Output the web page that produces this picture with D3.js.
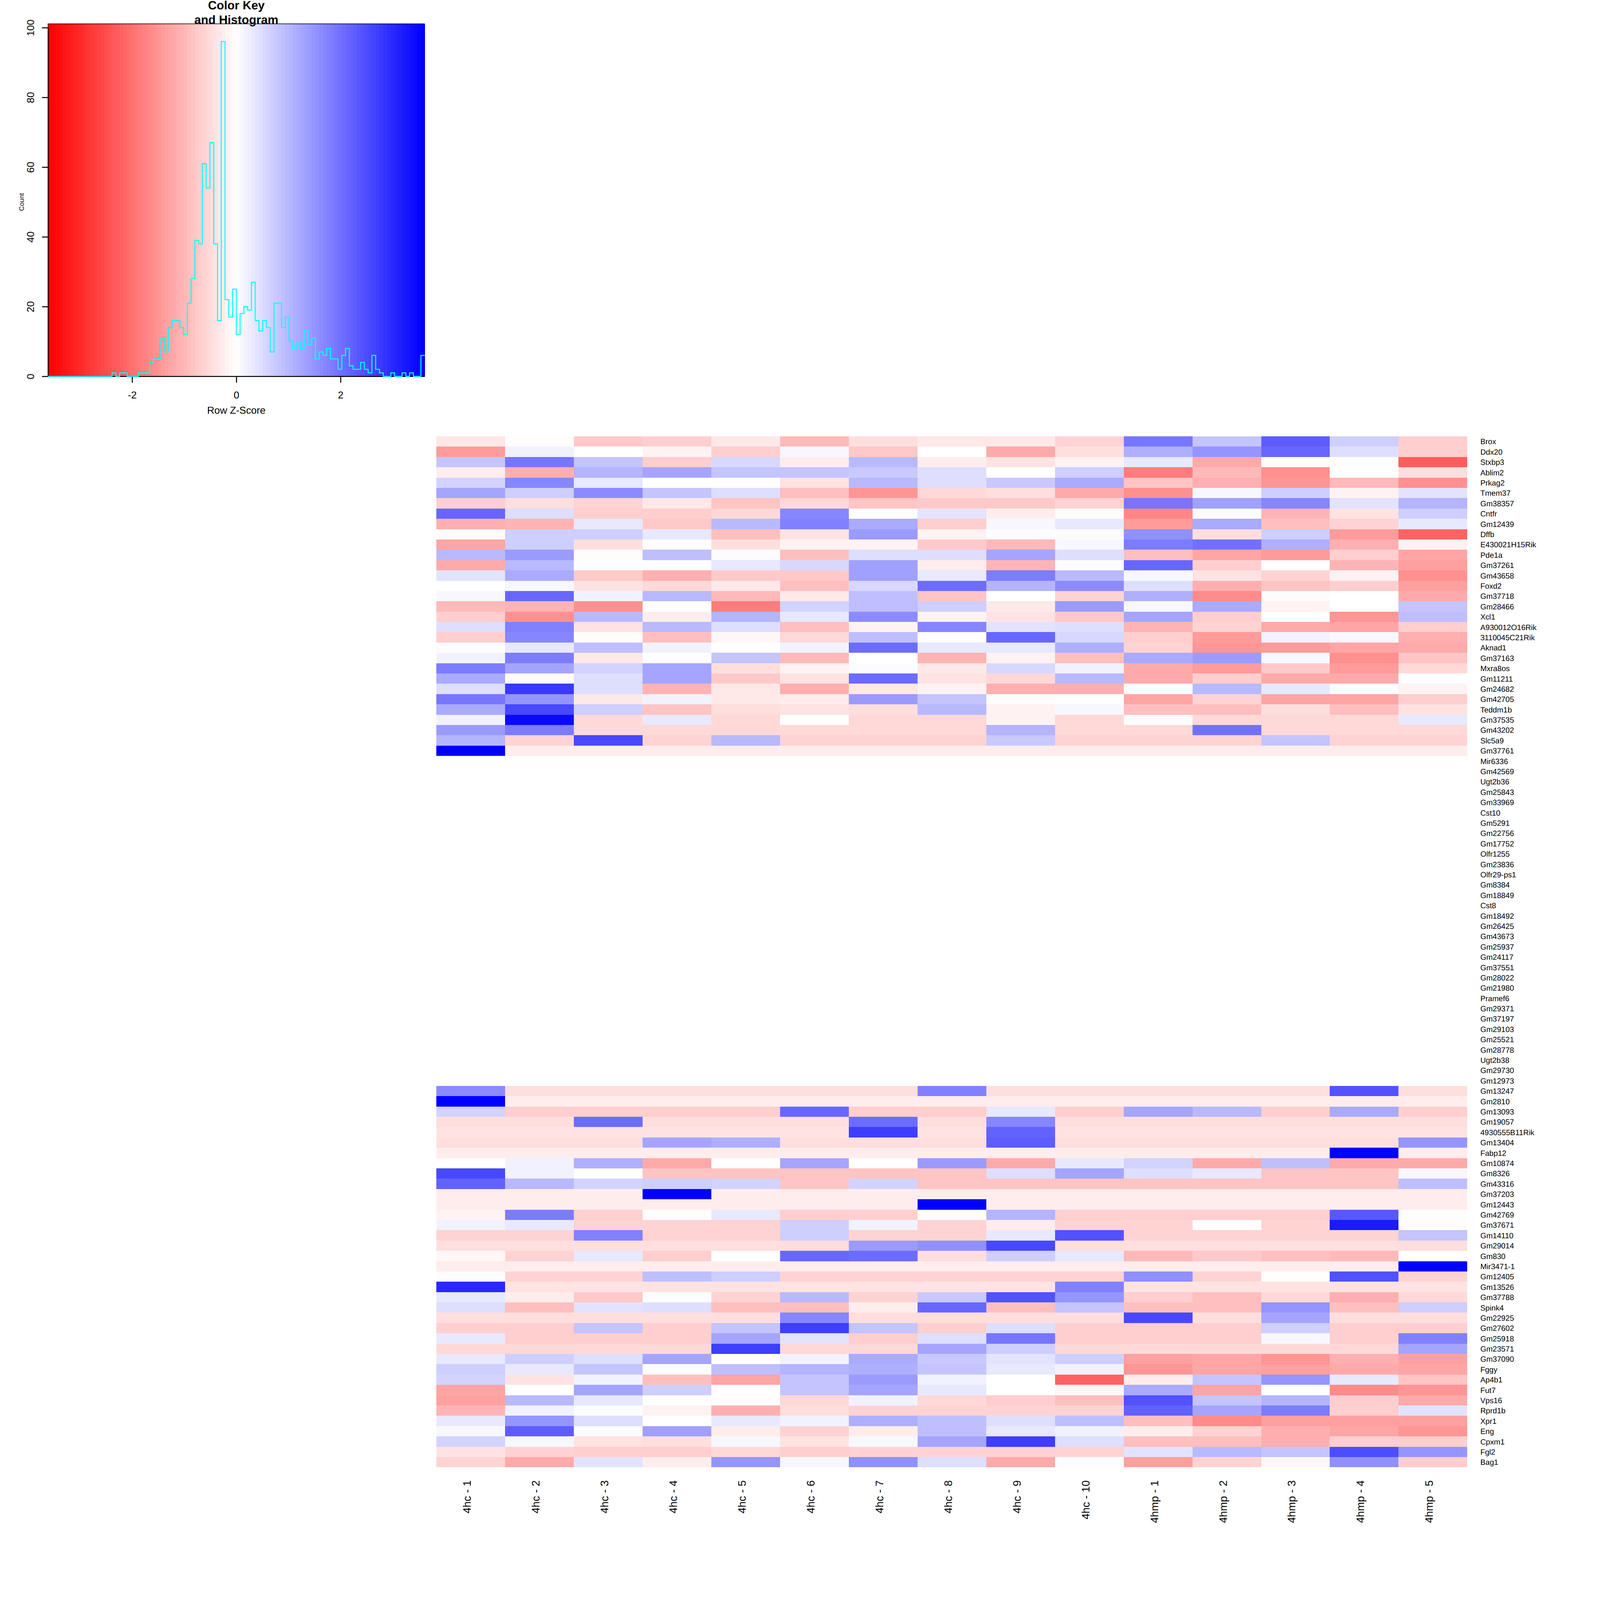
<!DOCTYPE html>
<html>
<head>
<meta charset="utf-8">
<title>Color Key and Histogram</title>
<script src="https://cdn.jsdelivr.net/npm/d3@7"></script>
<style>
	html, body {margin: 0; padding: 0; background: #fff; overflow: hidden;}
	svg {display: block; width: 100vw; height: 100vh; font-family: 'Liberation Sans', Arial, sans-serif; text-rendering: geometricPrecision;}
</style>
</head>
<body>
<svg id="chart" viewBox="0 0 4800 4800" preserveAspectRatio="xMinYMin meet"></svg>
<script>
const samples = ['4hc - 1', '4hc - 2', '4hc - 3', '4hc - 4', '4hc - 5', '4hc - 6', '4hc - 7', '4hc - 8', '4hc - 9', '4hc - 10', '4hmp - 1', '4hmp - 2', '4hmp - 3', '4hmp - 4', '4hmp - 5'];

const topGenes = ['Brox', 'Ddx20', 'Stxbp3', 'Ablim2', 'Prkag2', 'Tmem37', 'Gm38357', 'Cntfr', 'Gm12439', 'Dffb', 'E430021H15Rik', 'Pde1a', 'Gm37261', 'Gm43658', 'Foxd2', 'Gm37718', 'Gm28466', 'Xcl1', 'A930012O16Rik', '3110045C21Rik', 'Aknad1', 'Gm37163', 'Mxra8os', 'Gm11211', 'Gm24682', 'Gm42705', 'Teddm1b', 'Gm37535', 'Gm43202', 'Slc5a9', 'Gm37761'];

// these rows have no values, they stay blank
const emptyGenes = ['Mir6336', 'Gm42569', 'Ugt2b36', 'Gm25843', 'Gm33969', 'Cst10', 'Gm5291', 'Gm22756', 'Gm17752', 'Olfr1255', 'Gm23836', 'Olfr29-ps1', 'Gm8384', 'Gm18849', 'Cst8', 'Gm18492', 'Gm26425', 'Gm43673', 'Gm25937', 'Gm24117', 'Gm37551', 'Gm28022', 'Gm21980', 'Pramef6', 'Gm29371', 'Gm37197', 'Gm29103', 'Gm25521', 'Gm28778', 'Ugt2b38', 'Gm29730', 'Gm12973'];

const bottomGenes = ['Gm13247', 'Gm2810', 'Gm13093', 'Gm19057', '4930555B11Rik', 'Gm13404', 'Fabp12', 'Gm10874', 'Gm8326', 'Gm43316', 'Gm37203', 'Gm12443', 'Gm42769', 'Gm37671', 'Gm14110', 'Gm29014', 'Gm830', 'Mir3471-1', 'Gm12405', 'Gm13526', 'Gm37788', 'Spink4', 'Gm22925', 'Gm27602', 'Gm25918', 'Gm23571', 'Gm37090', 'Fggy', 'Ap4b1', 'Fut7', 'Vps16', 'Rprd1b', 'Xpr1', 'Eng', 'Cpxm1', 'Fgl2', 'Bag1'];

//row z-scores, one line per gene, positive = blue
const topValues = [
	[-.36, -.07, -.78, -.69, -.3, -1, -.45, -.3, -.3, -.58, 1.9, .85, 2.26, .72, -.72],
	[-1.4, .2, 0, -.16, -.68, .14, -.73, 0, -1.2, -.48, 1.1, 1.5, 2.14, .44, -.72],
	[.8, 1.9, .8, -.66, .52, -.24, .98, -.24, -.38, -.16, .33, -1.2, 0, -.07, -2.3],
	[-.24, -1.1, 1.03, 1.3, .8, .8, .73, .49, 0, .72, -1.81, -1, -1.55, 0, -.47],
	[.58, 1.7, .36, 0, -.07, -.4, .96, .49, .73, 1.19, -.85, -1.13, -1.45, -1, -1.52],
	[1.23, .72, 1.6, .8, .49, -.9, -1.49, -.53, -.47, -1.17, -1.57, .14, .68, -.17, .38],
	[-.68, -.45, -.58, -.29, -.8, -.53, -.85, -.76, -.76, -.6, 1.9, 1.37, 1.7, .38, 1.03],
	[2.14, .49, -.72, -.66, -.52, 1.68, 0, .38, -.28, -.07, -1.73, .07, -1.08, -.4, .68],
	[-1.15, -1.03, .36, -.76, .96, 1.75, 1.19, -.66, .14, .3, -1.42, 1.22, -.87, -.6, .33],
	[-.07, .66, .72, .3, -.87, -.4, 1.4, -.16, .07, .07, 1.55, -.47, .7, -1.43, -2.17],
	[-1.27, .72, -.45, -.07, -.45, -.16, -.16, -.78, -1, .14, 1.81, 2, 1.12, -1.13, -.17],
	[1, 1.43, -.07, .87, .07, -.89, .49, .49, 1.3, .49, -.9, -1.27, -1.43, -.68, -1.28],
	[-1.2, .99, 0, 0, .3, .55, 1.37, -.24, -1.07, .07, 2.14, -.66, 0, -1.07, -1.37],
	[.41, 1.17, -.73, -1.15, -.76, -.76, 1.37, .3, 1.81, .96, .14, -.43, -.6, -.17, -1.56],
	[0, .14, -.43, -.53, -.3, -.89, .55, 2.07, 1.03, 1.6, .44, -1.12, -.85, -.66, -1.32],
	[.14, 2.14, .2, .96, -1, -.33, .87, -.8, 0, -.58, 1.1, -1.63, .07, 0, -1.22],
	[-1, -1.07, -1.52, 0, -1.81, .58, .87, .7, -.3, 1.43, .14, 1.16, -.17, 0, .8],
	[-.68, -1.52, .96, -.24, 1.03, .33, 1.6, -.16, -.43, -.76, 1.3, -.72, 0, -1.47, .87],
	[.44, 1.75, -.43, .96, .49, -.89, -.16, 1.7, .38, .44, -1.07, -.6, -1.2, -1.27, -.68],
	[-.68, 1.7, -.07, -.89, -.09, -.53, .87, -.07, 2.14, .55, -.68, -1.4, .17, .14, -1.13],
	[.07, .3, .87, .2, 0, .2, 2.07, .33, .36, 1.1, -.6, -1.47, -1.4, -1.24, -1.2],
	[.2, 1.81, -.3, 0, .8, -1, 0, -1.07, -.17, -.9, 1.22, 1.43, .14, -1.53, -.85],
	[1.81, 1.28, .58, 1.23, -.45, -.17, .07, -.33, .55, .2, -1.17, -1.4, -.76, -1.42, -.53],
	[1.17, .07, .44, 1.3, -.73, -.4, 2.03, -.41, -.53, .96, -1.17, -.66, -1.22, -1.21, 0],
	[.49, 2.8, .44, -1.07, -.3, -1.1, -.3, -.16, -1.1, -1.1, .07, .96, .3, .07, -.17],
	[1.94, 1.47, -.3, .2, -.3, -.24, 1.4, .8, -.07, 0, -1.24, -.6, -1.27, -1.27, -.72],
	[1.19, 2.6, .72, -.85, -.45, -.4, -.47, .96, -.16, .14, -.89, -.89, -.45, -.89, -.4],
	[.2, 3.4, -.53, .3, -.53, -.07, -.53, -.53, -.16, -.53, .07, -.53, -.53, -.53, .36],
	[1.43, 1.81, -.53, -.53, -.53, -.53, -.53, -.53, 1.03, -.53, -.53, 2, -.53, -.53, -.53],
	[1.03, -.6, 2.6, -.6, .96, -.6, -.6, -.6, .73, -.6, -.6, -.6, .85, -.6, -.6],
	[3.615, -.26, -.26, -.26, -.26, -.26, -.26, -.26, -.26, -.26, -.26, -.26, -.26, -.26, -.26]
];

const bottomValues = [
	[1.6, -.45, -.45, -.45, -.45, -.45, -.45, 1.75, -.45, -.45, -.45, -.45, -.45, 2.4, -.45],
	[3.615, -.26, -.26, -.26, -.26, -.26, -.26, -.26, -.26, -.26, -.26, -.26, -.26, -.26, -.26],
	[.58, -.72, -.72, -.72, -.72, 2.14, -.72, -.72, .3, -.72, 1.3, .96, -.72, 1.21, -.72],
	[-.45, -.45, 2.03, -.45, -.45, -.45, 2.03, -.45, 1.7, -.45, -.45, -.45, -.45, -.45, -.45],
	[-.38, -.38, -.38, -.38, -.38, -.38, 2.71, -.38, 2.22, -.38, -.38, -.38, -.38, -.38, -.38],
	[-.47, -.47, -.47, 1.3, 1.1, -.47, -.47, -.47, 2.27, -.47, -.47, -.47, -.47, -.47, 1.45],
	[-.26, -.26, -.26, -.26, -.26, -.26, -.26, -.26, -.26, -.26, -.26, -.26, -.26, 3.615, -.26],
	[0, .2, 1.1, -1.2, 0, 1.3, 0, 1.43, -1.2, .3, .58, -1.2, .87, -1.2, -1.2],
	[2.6, .2, 0, -.85, -.85, -.85, -.85, -.85, .49, 1.3, .44, .3, -.85, -.85, .14],
	[2.22, .96, .58, .72, .58, -.85, .58, -.85, -.85, -.85, -.85, -.85, -.85, -.85, .87],
	[-.26, -.26, -.26, 3.615, -.26, -.26, -.26, -.26, -.26, -.26, -.26, -.26, -.26, -.26, -.26],
	[-.26, -.26, -.26, -.26, -.26, -.26, -.26, 3.615, -.26, -.26, -.26, -.26, -.26, -.26, -.26],
	[-.17, 1.81, -.66, -.07, .3, -.66, -.66, -.07, 1.03, -.66, -.66, -.66, -.66, 2.32, -.07],
	[.2, .36, -.58, -.58, -.58, .72, .2, -.58, -.24, -.58, -.58, 0, -.58, 3.25, -.07],
	[-.58, -.58, 1.75, -.58, -.58, .68, -.58, -.58, .36, 2.39, -.58, -.58, -.58, -.58, .8],
	[-.47, -.47, -.47, -.47, -.47, -.47, 1.43, 1.56, 2.55, -.47, -.47, -.47, -.47, -.47, -.47],
	[-.14, -.6, .3, -.68, 0, 2.14, 2.05, -.45, .72, .3, -1, -.76, -.9, -1, 0],
	[-.26, -.26, -.26, -.26, -.26, -.26, -.26, -.26, -.26, -.26, -.26, -.26, -.26, -.26, 3.615],
	[.07, -.6, -.6, .9, .72, -.6, -.6, -.6, -.6, -.6, 1.55, -.6, 0, 2.45, -.6],
	[3, -.38, -.38, -.38, -.38, -.38, -.38, -.38, -.38, 1.75, -.38, -.38, -.38, -.38, -.38],
	[.33, -.28, -.76, .07, -.6, .96, -.6, .73, 2.39, 1.47, -.66, -.87, -.53, -1.1, -.53],
	[.44, -.87, .38, .49, -.87, -.87, -.24, 2.14, -.87, .8, -.87, -.87, 1.47, -.87, .66],
	[-.45, -.45, -.45, -.45, -.45, 1.7, -.45, -.45, -.45, -.45, 2.6, -.45, 1.23, -.45, -.45],
	[-.68, -.68, .8, -.68, .8, 2.71, .8, -.68, .49, -.68, -.68, -.68, .66, -.68, -.68],
	[.3, -.72, -.72, -.72, 1.3, .38, -.72, .44, 1.9, -.72, -.72, -.72, .14, -.72, 1.75],
	[-.53, -.53, -.53, -.53, 2.71, -.53, -.53, 1.23, .72, -.53, -.53, -.53, -.53, -.53, 1.28],
	[.3, .72, .44, 1.3, 0, .2, 1.17, .73, .41, .72, -1.36, -1.27, -1.45, -1.1, -1.36],
	[.72, .3, .8, .07, .9, 1.06, 1.1, .8, .3, .2, -1.45, -1.27, -1.36, -1.17, -1.3],
	[.58, -.4, .2, -.89, -1.27, .8, 1.4, .2, 0, -2.17, -.27, .8, 1.47, .3, -.85],
	[-1.27, 0, 1.23, .72, 0, .8, 1.3, .36, 0, -.14, 1.17, -1.27, 0, -1.63, -1.45],
	[-1.35, .96, .3, 0, -.07, -.53, .2, -.53, -.72, -.87, 2.41, .8, 1.03, -.68, -1.17],
	[-1.03, .17, .07, -.16, -1.1, -.45, -.58, -.58, -.58, -.58, 2.22, 1.27, 1.81, -.72, .38],
	[.3, 1.47, .49, 0, .3, .2, 1.1, .87, .49, .87, -.9, -1.63, -1.35, -1.35, -1.35],
	[.14, 2.3, .07, 1.37, -.22, -.58, -.22, .87, .3, .2, -.22, -.58, -1.1, -1.24, -1.45],
	[.58, .14, -.38, -.45, .14, -.38, .14, 1.23, 2.71, .46, -.9, -.9, -1.13, -.72, -.72],
	[-.43, -.58, -.68, -.68, -.53, -.72, -.58, -.58, -.58, -.58, .38, .96, .8, 2.48, 1.47],
	[-.58, -1.2, .38, -.24, 1.48, .14, 1.56, .49, -1.2, .07, -1.37, -.63, -.14, 1.56, -.66]
];

//counts per colour key bin, 100 bins from left to right
const histCounts = [
	0, 0, 0, 0, 0, 0, 0, 0, 0, 0, 0, 0, 0, 0, 0, 0, 0, 1, 0, 1,
	1, 0, 0, 0, 1, 1, 1, 4, 5, 5, 11, 7, 14, 16, 16, 14, 12, 21, 28, 39,
	38, 61, 54, 67, 38, 16, 96, 22, 17, 25, 12, 18, 20, 19, 27, 16, 13, 16, 14, 7,
	21, 21, 14, 17, 10, 8, 10, 8, 13, 9, 11, 5, 7, 6, 8, 5, 5, 2, 6, 8,
	3, 2, 2, 4, 2, 1, 6, 2, 1, 0, 0, 1, 0, 0, 1, 0, 1, 0, 0, 6
];

const xTicks = [-2, 0, 2];
const yTicks = [0, 20, 40, 60, 80, 100];
const keyColors = ['red', 'white', 'blue'];
const zMax = 3.615;
const keyTop = 101.1; //the key image runs a little past the 100 tick

const svg = d3.select('#chart');

const genes = topGenes.concat(emptyGenes, bottomGenes);
const rows = topGenes.map((g, i) => ({gene: g, values: topValues[i]})).concat(bottomGenes.map((g, i) => ({gene: g, values: bottomValues[i]})));

//same 100 colour palette for the cells and the key
const ramp = d3.scaleLinear().domain([-zMax, 0, zMax]).range(keyColors).interpolate(d3.interpolateRgb);
const palette = d3.range(100).map(i => ramp(-zMax + (2 * zMax * i) / 99));
const cellColor = d3.scaleQuantize().domain([-zMax, zMax]).range(palette);

//=============================== heatmap ===============================
const x = d3.scaleBand().domain(samples).range([1309, 4402]);
const y = d3.scaleBand().domain(genes).range([1309, 4402]);

const cells = rows.flatMap(r => r.values.map((v, i) => ({gene: r.gene, sample: samples[i], value: v})));

svg.append('g')
	.attr('shape-rendering', 'crispEdges')
	.selectAll('rect')
	.data(cells)
	.enter()
	.append('rect')
	.attr('x', d => x(d.sample))
	.attr('y', d => y(d.gene))
	.attr('width', x.bandwidth())
	.attr('height', y.bandwidth())
	.attr('fill', d => (Math.abs(d.value) < 0.02 ? '#fff' : cellColor(d.value)));

svg.append('g')
	.selectAll('text')
	.data(genes)
	.enter()
	.append('text')
	.attr('x', 4441)
	.attr('y', d => y(d) + y.bandwidth() / 2 + 8.5)
	.attr('font-size', 23)
	.text(d => d);

svg.append('g')
	.selectAll('text')
	.data(samples)
	.enter()
	.append('text')
	.attr('transform', d => `translate(${x(d) + x.bandwidth() / 2},4441) rotate(-90)`)
	.attr('text-anchor', 'end')
	.attr('font-size', 32.5)
	.text(d => d);

//=============================== colour key ===============================
const histX = d3.scaleLinear().domain([-zMax, zMax]).range([144, 1274]);
const histY = d3.scaleLinear().domain([0, 100]).range([1129, 83]);
const binWidth = (2 * zMax) / histCounts.length;
const binStarts = histCounts.map((c, i) => -zMax + i * binWidth);

svg.append('g')
	.attr('shape-rendering', 'crispEdges')
	.selectAll('rect')
	.data(binStarts)
	.enter()
	.append('rect')
	.attr('x', d => histX(d))
	.attr('y', histY(keyTop))
	.attr('width', histX(binWidth) - histX(0) + 0.5)
	.attr('height', histY(0) - histY(keyTop))
	.attr('fill', (d, i) => palette[i]);

//left and top edge of the key box, bottom comes from the x axis
const boxLine = d3
	.line()
	.x(d => histX(d[0]))
	.y(d => histY(d[1]));

svg.append('path')
	.datum([[-zMax, 0], [-zMax, keyTop], [zMax, keyTop]])
	.attr('d', boxLine)
	.attr('fill', 'none')
	.attr('stroke', '#000')
	.attr('stroke-width', 1.5);

const xAxis = svg
	.append('g')
	.attr('transform', `translate(0,${histY(0)})`)
	.call(d3.axisBottom(histX).tickValues(xTicks).tickFormat(d => String(d)).tickSize(19).tickSizeOuter(0));

const yAxis = svg
	.append('g')
	.attr('transform', `translate(${histX(-zMax)},0)`)
	.call(d3.axisLeft(histY).tickValues(yTicks).tickFormat(d => String(d)).tickSize(18).tickSizeOuter(0));

[xAxis, yAxis].forEach(axis => {
	axis.attr('font-family', null).attr('font-size', 30);
	axis.selectAll('line').attr('stroke-width', 3);
	axis.select('.domain').attr('stroke-width', 3);
});

xAxis.selectAll('text').attr('y', 66).attr('dy', 0);
yAxis
	.selectAll('text')
	.attr('x', null)
	.attr('dy', 0)
	.attr('text-anchor', 'middle')
	.attr('transform', 'translate(-41.5,0) rotate(-90)');

//histogram goes over the axis line, the zero stretches show cyan
const stepLine = d3
	.line()
	.x(d => histX(d[0]))
	.y(d => histY(d[1]))
	.curve(d3.curveStepAfter);

svg.append('path')
	.datum(binStarts.map((b, i) => [b, histCounts[i]]).concat([[zMax, histCounts[histCounts.length - 1]]]))
	.attr('d', stepLine)
	.attr('fill', 'none')
	.attr('stroke', '#00ffff')
	.attr('stroke-width', 3);

svg.append('text')
	.attr('x', histX(0))
	.attr('y', 1241)
	.attr('text-anchor', 'middle')
	.attr('font-size', 30)
	.text('Row Z-Score');

svg.append('text')
	.attr('transform', `translate(71,${histY(50)}) rotate(-90)`)
	.attr('text-anchor', 'middle')
	.attr('font-size', 20)
	.text('Count');

svg.append('text')
	.attr('x', histX(0))
	.attr('y', 28)
	.attr('text-anchor', 'middle')
	.attr('font-size', 36)
	.attr('font-weight', 'bold')
	.text('Color Key');

svg.append('text')
	.attr('x', histX(0))
	.attr('y', 71)
	.attr('text-anchor', 'middle')
	.attr('font-size', 36)
	.attr('font-weight', 'bold')
	.text('and Histogram');
</script>
</body>
</html>
